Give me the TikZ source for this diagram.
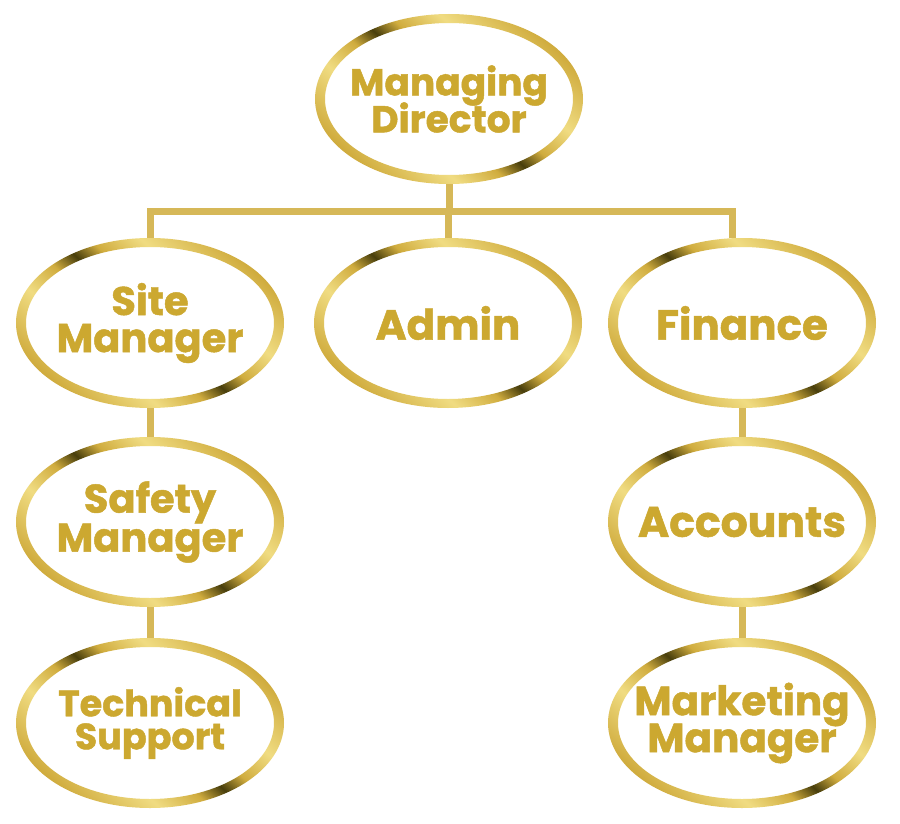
\documentclass[tikz,border=0pt]{standalone}
\usepackage{fontspec}
\setmainfont{Poppins}[BoldFeatures={FakeBold=1.2}]
\usetikzlibrary{shapes.geometric}
\definecolor{goldA}{RGB}{240,220,130}
\definecolor{goldB}{RGB}{208,172,62}
\definecolor{goldD}{RGB}{72,62,12}
\definecolor{goldT}{RGB}{204,168,48}
\definecolor{goldL}{RGB}{214,184,88}
\pgfdeclarehorizontalshading{goldring}{100bp}{color(0bp)=(goldB); color(25bp)=(goldB); color(37bp)=(goldA); color(45bp)=(goldB); color(50bp)=(goldD); color(55bp)=(goldB); color(63bp)=(goldA); color(75bp)=(goldB); color(100bp)=(goldB)}
\newcommand\myring[1]{\shade[shading=goldring, shading angle=48, even odd rule] (#1.center) ellipse [x radius=134pt, y radius=85pt] (#1.center) ellipse [x radius=124pt, y radius=76pt];}
\newcommand\myspacing{\lineskiplimit=-100pt\relax\lineskip=0pt\relax}
\tikzset{
  role/.style={ellipse, minimum width=268pt, minimum height=170pt, inner sep=0pt, align=center, text=goldT},
  fs/.style 2 args={font=\fontsize{#1}{#2}\selectfont\bfseries\myspacing},
  conn/.style={draw=goldL, line width=7pt},
  bar/.style={draw=goldL, line width=7pt, line cap=rect}
}
\begin{document}
\begin{tikzpicture}[x=1pt,y=-1pt]
\useasboundingbox[fill=white] (0,0) rectangle (900,824);
\node[role, fs={37.5}{37}] (md) at (449,99) {Managing\\Director};
\node[role, fs={40}{37}] (sm) at (150,323) {Site\\Manager};
\node[role, fs={42}{40}] (ad) at (448,323) {Admin};
\node[role, fs={42}{40}] (fi) at (742,323) {Finance};
\node[role, fs={40}{39}] (sf) at (150,522) {Safety\\Manager};
\node[role, fs={42.5}{40}] (ac) at (742,522) {Accounts};
\node[role, fs={36.5}{33}] (ts) at (150,723) {Technical\\Support};
\node[role, fs={40.5}{37}] (mm) at (742,723) {Marketing\\Manager};
\coordinate (barL) at (150,211);
\coordinate (barR) at (732,211);
\draw[bar] (barL) -- (barR);
\draw[conn] (md.south) -- (md.south |- barL);
\draw[conn] (barL) -- (barL |- sm.north);
\draw[conn] (ad.north) -- (ad.north |- barL);
\draw[conn] (barR) -- (barR |- fi.north);
\draw[conn] (sm.south) -- (sf.north);
\draw[conn] (sf.south) -- (ts.north);
\draw[conn] (fi.south) -- (ac.north);
\draw[conn] (ac.south) -- (mm.north);
\foreach \n in {md,sm,ad,fi,sf,ac,ts,mm}{\myring{\n}}
\end{tikzpicture}
\end{document}
